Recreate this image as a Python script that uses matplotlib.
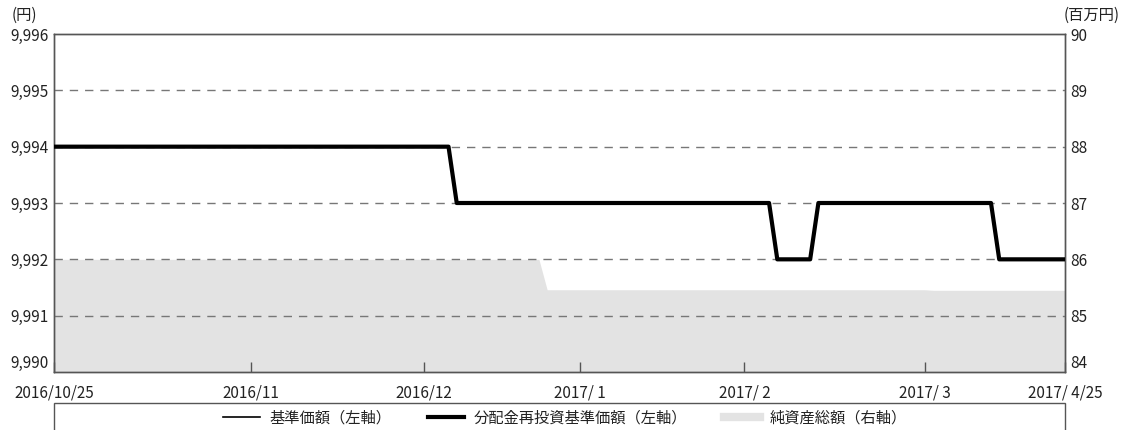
import matplotlib.pyplot as plt
import pandas as pd
from matplotlib.patches import Rectangle
from matplotlib.lines import Line2D

plt.rcParams['font.family'] = ['Noto Sans CJK JP', 'DejaVu Sans']

# Japanese market holidays in the period
holidays = ['2016-11-03', '2016-11-23', '2016-12-23', '2017-01-02',
            '2017-01-03', '2017-01-09', '2017-03-20']

# step changes
nav_change_dates = ['2016-10-25', '2017-01-10', '2017-03-06', '2017-03-13', '2017-04-13']
nav_values = [9994, 9993, 9992, 9993, 9992]
reinv_values = [9994, 9993, 9992, 9993, 9992]
asset_change_dates = ['2016-10-25', '2017-01-25', '2017-04-03']
asset_values = [86.0, 85.46, 85.45]

month_ticks = ['2016-10-25', '2016-11-30', '2016-12-30', '2017-01-31',
               '2017-02-28', '2017-03-31', '2017-04-25']
month_labels = ['2016/10/25', '2016/11', '2016/12', '2017/ 1',
                '2017/ 2', '2017/ 3', '2017/ 4/25']

days = pd.bdate_range('2016-10-25', '2017-04-25', freq='C', holidays=holidays)
idx = range(len(days))

def steps(dates, values):
    s = pd.Series(values, index=pd.to_datetime(dates))
    return s.reindex(days, method='ffill').values

nav = steps(nav_change_dates, nav_values)
reinv = steps(nav_change_dates, reinv_values)
assets = steps(asset_change_dates, asset_values)

fig = plt.figure(figsize=(11.46, 4.30), dpi=100)
ax = fig.add_axes([0.0471, 0.1349, 0.8822, 0.786])
ax2 = ax.twinx()

ax2.fill_between(idx, 84, assets, color='#e3e3e3', lw=0)
ax.set_zorder(ax2.get_zorder() + 1)
ax.patch.set_visible(False)

for v in [9991, 9992, 9993, 9994, 9995]:
    ax.axhline(v, color='#777777', lw=1, ls=(0, (6, 5)), zorder=1)

ax.plot(idx, nav, color='black', lw=1.2, zorder=3)
ax.plot(idx, reinv, color='black', lw=3, zorder=4)

ax.set_ylim(9990, 9996)
ax.set_yticks(range(9990, 9997))
ax.set_yticklabels([f'{v:,}' for v in range(9990, 9997)])
ax2.set_ylim(84, 90)
ax2.set_yticks(range(84, 91))
ax.set_xlim(0, len(days) - 1)

tick_pos = [days.get_loc(pd.Timestamp(d)) for d in month_ticks]
ax.set_xticks(tick_pos)
ax.set_xticklabels(month_labels)
ax.tick_params(axis='x', direction='in', length=7, width=1, color='#555555', pad=9)
ax.tick_params(axis='y', length=0, pad=4)
ax2.tick_params(axis='y', length=0, pad=4)
for a in (ax, ax2):
    a.tick_params(labelsize=11, labelcolor='#222222')
    for sp in a.spines.values():
        sp.set_color('#555555')
        sp.set_linewidth(1)
# lower-corner labels sit a little above the axis line
ax.get_yticklabels()[0].set_verticalalignment('bottom')
ax2.get_yticklabels()[0].set_verticalalignment('bottom')

fig.text(0.010, 0.955, '(円)', fontsize=11, color='#222222')
fig.text(0.928, 0.955, '(百万円)', fontsize=11, color='#222222')

# legend box under the chart
fig.patches.append(Rectangle((0.0471, -0.05), 0.8822, 0.113, transform=fig.transFigure,
                             fill=False, edgecolor='#555555', lw=1))
handles = [Line2D([], [], color='black', lw=1.2),
           Line2D([], [], color='black', lw=3),
           Line2D([], [], color='#e3e3e3', lw=6)]
labels = ['基準価額（左軸）', '分配金再投資基準価額（左軸）', '純資産総額（右軸）']
fig.legend(handles, labels, loc='center', bbox_to_anchor=(0.493, 0.028), ncol=3,
           frameon=False, fontsize=11, handlelength=2.4, columnspacing=2.4,
           handletextpad=0.6, labelcolor='#222222')

fig.savefig('out.png', dpi=100)
